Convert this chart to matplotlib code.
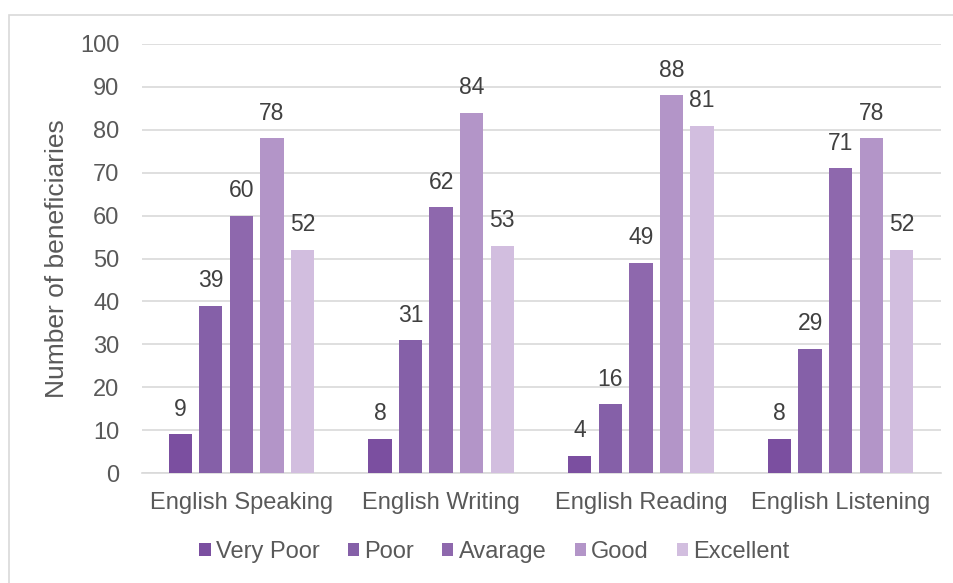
import matplotlib
matplotlib.use('Agg')
import matplotlib.pyplot as plt
from matplotlib.patches import Rectangle
import numpy as np

plt.rcParams['font.family'] = ['Liberation Sans', 'DejaVu Sans']

categories = ['English Speaking', 'English Writing', 'English Reading', 'English Listening']
levels = ['Very Poor', 'Poor', 'Avarage', 'Good', 'Excellent']
very_poor = [9, 8, 4, 8]
poor = [39, 31, 16, 29]
avarage = [60, 62, 49, 71]
good = [78, 84, 88, 78]
excellent = [52, 53, 81, 52]
series = [very_poor, poor, avarage, good, excellent]
colors = ['#7B4FA0', '#8560A8', '#8E68AD', '#B395C8', '#D2BEDF']

text_color = '#595959'
W, H = 954, 583

fig = plt.figure(figsize=(W / 100, H / 100), dpi=100)
ax = fig.add_axes([141.5 / W, 1 - 473 / H, 799 / W, 429 / H])

# chart border (only top and left edges fall inside the image)
top = 1 - 15 / H
fig.patches.append(Rectangle((9.5 / W, -0.1), 1.0, top + 0.1, transform=fig.transFigure,
                             fill=False, edgecolor='#D9D9D9', linewidth=1.2))

x = np.arange(len(categories))
width = 0.117
pitch = 0.153
for i, (vals, lab, col) in enumerate(zip(series, levels, colors)):
    pos = x + (i - 2) * pitch
    bars = ax.bar(pos, vals, width=width, color=col, label=lab, zorder=3)
    for b, v in zip(bars, vals):
        ax.annotate(str(v), (b.get_x() + b.get_width() / 2, v), xytext=(0, 18),
                    textcoords='offset points', ha='center', va='center',
                    fontsize=16.5, color='#404040')

ax.set_xlim(-0.5, len(categories) - 0.5)
ax.set_ylim(0, 100)
ax.set_yticks(range(0, 101, 10))
ax.yaxis.grid(True, color='#D9D9D9', linewidth=1.2, zorder=0)
ax.set_axisbelow(True)
for s in ['top', 'right', 'left']:
    ax.spines[s].set_visible(False)
ax.spines['bottom'].set_color('#D9D9D9')
ax.spines['bottom'].set_linewidth(1.2)
ax.tick_params(axis='both', length=0, labelsize=17, colors=text_color)
ax.tick_params(axis='x', pad=14)
ax.tick_params(axis='y', pad=16)
ax.set_xticks(x)
ax.set_xticklabels(categories)
ax.set_ylabel('Number of beneficiaries', fontsize=19, color=text_color)
ax.yaxis.label.set_va('center')
ax.yaxis.set_label_coords((57.5 - 141.5) / 799, 0.5)

fig.legend(loc='center', bbox_to_anchor=(494.5 / W, 1 - 552 / H), ncol=5, frameon=False,
           fontsize=17, labelcolor=text_color, handlelength=0.47, handleheight=0.47,
           handletextpad=0.22, columnspacing=1.2, borderpad=0)

fig.savefig('out.png', dpi=100)
